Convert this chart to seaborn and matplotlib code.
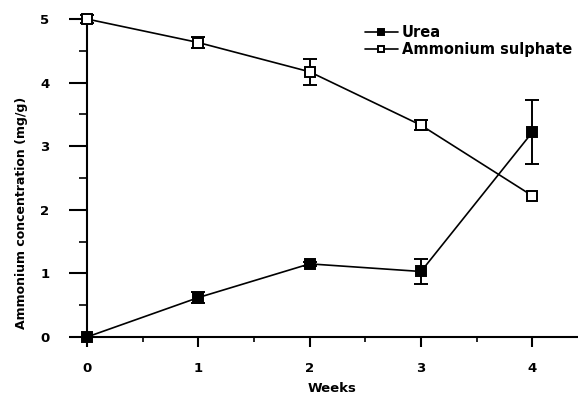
import matplotlib
matplotlib.use("Agg")
import matplotlib.pyplot as plt
from matplotlib.ticker import MultipleLocator
import seaborn as sns
import pandas as pd

weeks = [0, 1, 2, 3, 4]
urea = [0.0, 0.62, 1.15, 1.03, 3.22]
urea_err = [0.0, 0.08, 0.03, 0.20, 0.50]
sulphate = [5.0, 4.63, 4.17, 3.33, 2.22]
sulphate_err = [0.07, 0.08, 0.20, 0.08, 0.0]

sns.set_theme(style="ticks")
plt.rcParams["font.family"] = ["DejaVu Sans"]
plt.rcParams.update({
    "font.weight": "bold",
    "text.color": "black",
    "axes.labelcolor": "black",
    "axes.edgecolor": "black",
    "xtick.color": "black",
    "ytick.color": "black",
})

df = pd.concat([
    pd.DataFrame({"Weeks": weeks, "value": urea, "err": urea_err, "series": "Urea"}),
    pd.DataFrame({"Weeks": weeks, "value": sulphate, "err": sulphate_err, "series": "Ammonium sulphate"}),
])

fig = plt.figure(figsize=(5.78, 3.96), dpi=100)
ax = fig.add_axes([0.1505, 0.149, 0.8495, 0.803])

styles = {
    "Urea": dict(marker="s", markerfacecolor="black"),
    "Ammonium sulphate": dict(marker="s", markerfacecolor="white"),
}

for name, sub in df.groupby("series", sort=False):
    sns.lineplot(data=sub, x="Weeks", y="value", ax=ax, color="black", lw=1.2,
                 markersize=7.5, markeredgecolor="black", markeredgewidth=1.4,
                 label=name, clip_on=False, zorder=3, **styles[name])
    mask = sub["err"] > 0
    ax.errorbar(sub["Weeks"][mask], sub["value"][mask], yerr=sub["err"][mask],
                fmt="none", ecolor="black", elinewidth=1.4, capsize=5,
                capthick=1.4, zorder=2, clip_on=False)

ax.set_xlim(0, 4.41)
ax.set_ylim(0, 5)
ax.xaxis.set_major_locator(MultipleLocator(1))
ax.xaxis.set_minor_locator(MultipleLocator(0.5))
ax.yaxis.set_major_locator(MultipleLocator(1))
ax.yaxis.set_minor_locator(MultipleLocator(0.5))
ax.tick_params(axis="y", which="major", length=13, width=1.5, labelsize=9.5, pad=14)
ax.tick_params(axis="y", which="minor", length=6, width=1.2)
ax.tick_params(axis="x", which="major", length=7, width=1.5, labelsize=9.5, pad=11)
ax.tick_params(axis="x", which="minor", length=3.5, width=1.2)
for lab in ax.get_xticklabels() + ax.get_yticklabels():
    lab.set_fontweight("bold")

sns.despine(ax=ax)
for s in ("left", "bottom"):
    ax.spines[s].set_linewidth(1.5)

ax.set_xlabel("Weeks", fontsize=9.5, fontweight="bold", labelpad=5)
ax.set_ylabel("Ammonium concentration (mg/g)", fontsize=9, fontweight="bold")
ax.yaxis.set_label_coords(-0.12, 0.39)

leg = ax.legend(loc="upper left", bbox_to_anchor=(365 / 578, 1 - 25 / 396),
                bbox_transform=fig.transFigure, frameon=False, borderpad=0,
                borderaxespad=0, fontsize=10.5, handlelength=2.25,
                handletextpad=0.27, labelspacing=0.15, markerscale=0.6)
for t in leg.get_texts():
    t.set_fontweight("bold")
    t.set_color("black")

fig.savefig("out.png", dpi=100)
